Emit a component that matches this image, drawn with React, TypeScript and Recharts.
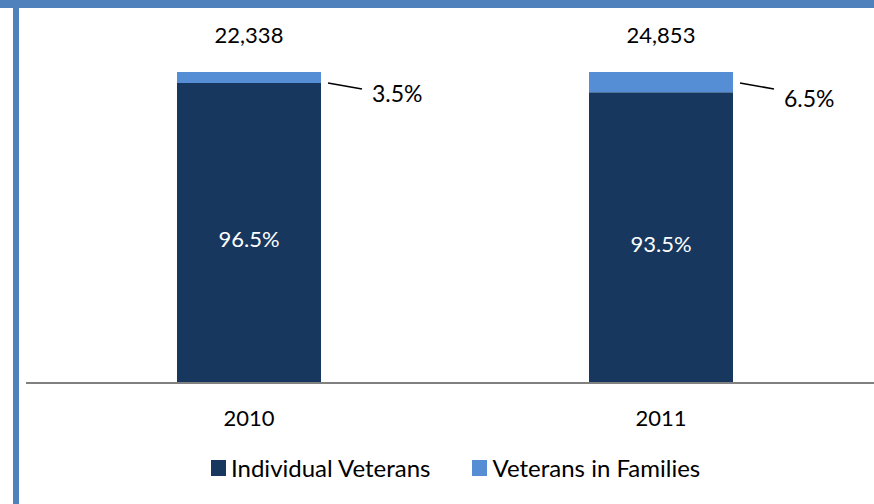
import { Bar, BarChart, LabelList, Legend, XAxis, YAxis } from "recharts";

const years = ["2010", "2011"];
const individual = [96.5, 93.5];
const families = [3.5, 6.5];
const totals = ["22,338", "24,853"];

const DARK = "#17375e";
const LIGHT = "#558ed5";
const FONT = "Lato, 'Open Sans', sans-serif";

const data = years.map((year, i) => ({
  year,
  individual: individual[i],
  families: families[i],
  total: totals[i]
}));

function FamilyLabel(props: any) {
  const { x, y, width, height, index, value } = props;
  const right = x + width;
  const mid = y + height / 2;
  return (
    <g>
      <text x={x + width / 2} y={y - 29} textAnchor="middle" fontSize={22} fill="#000" fontFamily={FONT}>
        {totals[index]}
      </text>
      <line x1={right + 7} y1={y + 11} x2={right + 41} y2={y + 17} stroke="#000" strokeWidth={1.5} />
      <text x={right + 51} y={mid + 24.5} textAnchor="start" fontSize={23} fill="#000" fontFamily={FONT}>
        {`${value}%`}
      </text>
    </g>
  );
}

function IndividualLabel(props: any) {
  const { x, y, width, height, value } = props;
  return (
    <text x={x + width / 2} y={y + height / 2 + 14} textAnchor="middle" fontSize={22} fill="#fff" fontFamily={FONT}>
      {`${value}%`}
    </text>
  );
}

function YearTick(props: any) {
  const { x, y, payload } = props;
  return (
    <text x={x} y={y + 43} textAnchor="middle" fontSize={22} fill="#000" fontFamily={FONT}>
      {payload.value}
    </text>
  );
}

function LegendContent() {
  const items = [
    { name: "Individual Veterans", color: DARK },
    { name: "Veterans in Families", color: LIGHT }
  ];
  return (
    <div style={{ display: "flex", alignItems: "center", height: 20, fontFamily: FONT, fontSize: 24, color: "#000" }}>
      {items.map((it, i) => (
        <div key={it.name} style={{ display: "flex", alignItems: "center", marginRight: i === 0 ? 42 : 0 }}>
          <span style={{ display: "inline-block", width: 15, height: 16, background: it.color, marginRight: 5 }} />
          <span style={{ lineHeight: "20px" }}>{it.name}</span>
        </div>
      ))}
    </div>
  );
}

export default function App() {
  return (
    <div style={{ position: "relative", width: 874, height: 504, background: "#fff", overflow: "hidden" }}>
      <style>{`body{margin:0}`}</style>
      <div style={{ position: "absolute", left: 0, top: 0, width: 874, height: 8, background: "#4f81bd" }} />
      <div style={{ position: "absolute", left: 13, top: 0, width: 6, height: 504, background: "#4f81bd" }} />
      <div style={{ position: "absolute", left: 0, top: 0 }}>
        <BarChart width={874} height={504} data={data} margin={{ top: 72, right: 0, left: 26, bottom: 0 }}>
          <XAxis
            dataKey="year"
            axisLine={{ stroke: "#808080", strokeWidth: 2 }}
            tickLine={false}
            tickSize={0}
            tickMargin={0}
            height={101}
            padding={{ left: 17, right: 7 }}
            tick={<YearTick />}
          />
          <YAxis hide domain={[0, 100]} />
          <Legend
            verticalAlign="bottom"
            content={<LegendContent />}
            wrapperStyle={{ position: "absolute", left: 211, top: 458, bottom: "auto", width: "auto" }}
          />
          <Bar dataKey="individual" name="Individual Veterans" stackId="a" fill={DARK} barSize={144} isAnimationActive={false}>
            <LabelList dataKey="individual" content={<IndividualLabel />} />
          </Bar>
          <Bar dataKey="families" name="Veterans in Families" stackId="a" fill={LIGHT} barSize={144} isAnimationActive={false}>
            <LabelList dataKey="families" content={<FamilyLabel />} />
          </Bar>
        </BarChart>
      </div>
    </div>
  );
}
